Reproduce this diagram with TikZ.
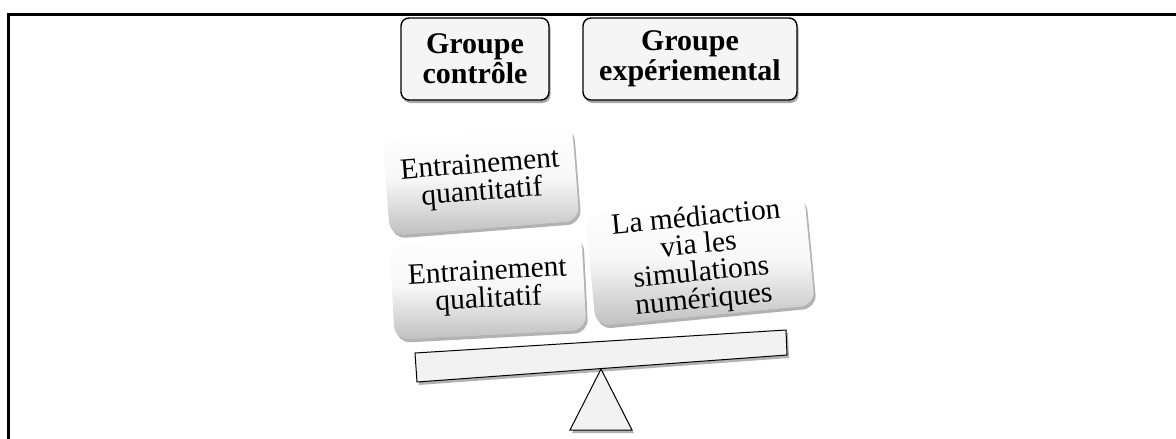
\documentclass[tikz,border=0pt]{standalone}
\usepackage{fontspec}
\setmainfont{Liberation Serif}
\usetikzlibrary{shadows}
\begin{document}
\begin{tikzpicture}[x=1pt,y=-1pt,
  groupbox/.style={draw=black, line width=1.4pt, fill=black!4, rounded corners=8pt,
    align=center, inner sep=0pt, minimum height=82pt,
    font=\fontsize{30}{30}\selectfont\bfseries,
    drop shadow={shadow xshift=1.5pt, shadow yshift=-3pt, opacity=0.35, fill=black}},
  softbox/.style={rounded corners=14pt, top color=white, bottom color=black!25,
    middle color=black!3, align=center, inner sep=0pt,
    font=\fontsize{29.5}{27.5}\selectfont,
    drop shadow={shadow xshift=2pt, shadow yshift=-3pt, opacity=0.3, fill=black}},
  scalepart/.style={draw=black, line width=1pt, fill=black!5,
    drop shadow={shadow xshift=2pt, shadow yshift=-3pt, opacity=0.3, fill=black}}
]
\useasboundingbox (0,0) rectangle (1176,439);
% frame
\coordinate (fl) at (8.3,439);
\coordinate (ftl) at (8.3,14);
\coordinate (fr) at (1176,14);
\draw[line width=3pt] (fl) -- (ftl) -- (fr);

% group boxes
\node[groupbox, minimum width=148pt] (gc) at (475,59) {Groupe\\contrôle};
\node[groupbox, minimum width=214pt] (ge) at (690,59) {Groupe\\expériemental};

% beam and fulcrum
\coordinate (b1) at (415,353);
\coordinate (b2) at (786,330);
\coordinate (b3) at (787,355);
\coordinate (b4) at (417,382);
\draw[scalepart] (b1) -- (b2) -- (b3) -- (b4) -- cycle;
\coordinate (t1) at (601,369);
\coordinate (t2) at (632,430);
\coordinate (t3) at (570,430);
\draw[scalepart] (t1) -- (t2) -- (t3) -- cycle;

% soft boxes
\node[softbox, minimum width=190pt, minimum height=97pt, rotate=4.5] (quant) at (481,180) {Entrainement\\quantitatif};
\node[softbox, minimum width=192pt, minimum height=96pt, rotate=3] (qual) at (488,287) {Entrainement\\qualitatif};
\node[softbox, minimum width=220pt, minimum height=112pt, rotate=5.5] (med) at (700,260) {La médiaction\\via les\\simulations\\numériques};
\end{tikzpicture}
\end{document}
